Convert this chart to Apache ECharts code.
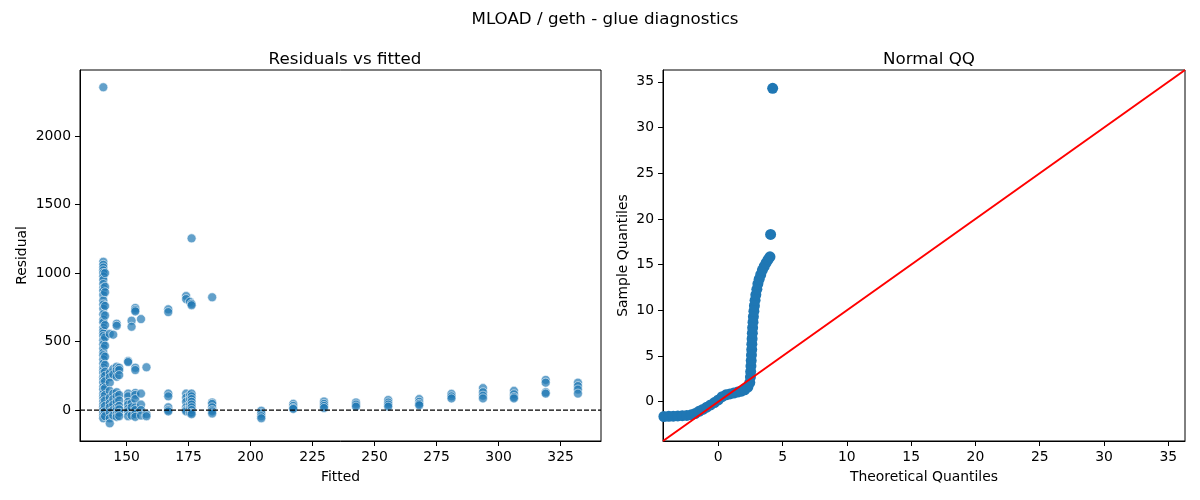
<!DOCTYPE html>
<html>
<head>
<meta charset="utf-8">
<script src="https://cdn.jsdelivr.net/npm/echarts@6.0.0/dist/echarts.min.js"></script>
<style>
  html, body { margin: 0; padding: 0; background: #fff; }
  #main { width: 1200px; height: 500px; }
</style>
</head>
<body>
<div id="main"></div>
<script>
// residuals vs fitted: one list of residuals per fitted level
var fittedLevels = [140.6, 141.3, 143.2, 144.6, 146, 147, 150.6, 152, 153.5, 155.8, 158, 166.8, 174, 175.5, 176.2, 184.5, 204.3, 217.2, 229.6, 242.5, 255.5, 268, 281, 293.7, 306.2, 319, 332]
var residualsByLevel = [
	[2356, 1082, 1060, 1040, 1020, 1000, 975, 950, 920, 890, 870, 840, 800, 770, 740, 700, 660, 640, 600, 580, 560, 540, 510, 480, 450, 420, 400, 370, 340, 310, 290, 270, 240, 220, 200, 170, 150, 120, 100, 80, 60, 40, 20, 0, -20, -40, -60],
	[1000, 900, 860, 760, 690, 620, 530, 470, 390, 330, 280, 250, 210, 160, 110, 70, 30, -10, -45],
	[556, 270, 240, 200, 140, 90, 50, 20, -15, -60, -97],
	[550, 300, 260, 120, 80, 40, 0, -40],
	[630, 615, 316, 292, 243, 130, 100, 60, 20, 0, -30, -50],
	[309, 292, 255, 110, 70, 30, 5, -20, -45],
	[358, 350, 120, 100, 60, 40, 10, -10, -45],
	[652, 608, 50, 20, -40],
	[745, 730, 720, 309, 292, 125, 110, 80, 20, 0, -30, -50],
	[664, 120, 40, 0, -40],
	[312, -30, -45],
	[735, 715, 120, 100, 20, 0, -10],
	[832, 810, 120, 90, 60, 20, 0, -10],
	[790, 110, 80, 40, 10, -20],
	[1253, 775, 765, 120, 100, 80, 60, 40, 20, 0, -20, -30],
	[823, 55, 45, 20, 0, -10, -25],
	[-5, -25, -45, -60],
	[45, 30, 15, 8],
	[62, 45, 30, 15],
	[55, 40, 25],
	[73, 55, 40, 25],
	[80, 60, 45, 35],
	[118, 100, 85],
	[160, 130, 105, 85],
	[140, 115, 95, 85],
	[220, 200, 130, 120],
	[200, 175, 150, 120]
]
var fittedTicks = [150, 175, 200, 225, 250, 275, 300, 325]
var residTicks = [0, 500, 1000, 1500, 2000]

// normal QQ, read along the band
var qqTheoretical = [-4.23, -3.85, -3.5, -3.15, -2.8, -2.45, -2.1, -1.8, -1.5, -1.2, -0.9, -0.6, -0.3, 0.0, 0.3, 0.6, 0.9, 1.2, 1.5, 1.8, 2.05, 2.3, 2.45, 2.5, 2.52, 2.54, 2.56, 2.58, 2.6, 2.61, 2.63, 2.65, 2.67, 2.7, 2.73, 2.77, 2.81, 2.86, 2.92, 3.0, 3.08, 3.18, 3.3, 3.43, 3.57, 3.72, 3.87, 4.02, 4.07, 4.23]
var qqSample = [-1.62, -1.6, -1.58, -1.56, -1.53, -1.5, -1.44, -1.3, -1.05, -0.85, -0.6, -0.35, -0.1, 0.2, 0.55, 0.75, 0.85, 0.95, 1.05, 1.15, 1.3, 1.6, 2.1, 2.7, 3.3, 3.9, 4.5, 5.1, 5.7, 6.3, 6.9, 7.5, 8.1, 8.7, 9.3, 9.9, 10.5, 11.1, 11.7, 12.3, 12.9, 13.4, 13.9, 14.4, 14.8, 15.2, 15.55, 15.85, 18.3, 34.3]
var qqTicks = [0, 5, 10, 15, 20, 25, 30, 35]
var qqLimits = [-4.3, 36.3]

var font = "DejaVu Sans", ink = "#000", blue = "#1f77b4"
var residPoints = []
fittedLevels.forEach(function(x, i) { residualsByLevel[i].forEach(function(y) { residPoints.push([x, y]) }) })
var qqPoints = qqTheoretical.map(function(x, i) { return [x, qqSample[i]] })

function axis(min, max, ticks, name, gap) {
	return {type: "value", min: min, max: max, name: name, nameLocation: "middle", nameGap: gap,
		nameTextStyle: {fontFamily: font, fontSize: 13.9, color: ink},
		axisLine: {show: true, onZero: false, lineStyle: {color: ink, width: 1}},
		axisTick: {show: true, inside: false, length: 5, customValues: ticks, lineStyle: {color: ink, width: 1}},
		axisLabel: {customValues: ticks, margin: 9, fontFamily: font, fontSize: 13.9, color: ink, formatter: function(v) { return String(v) }},
		splitLine: {show: false},
	}
}

var chart = echarts.init(document.getElementById("main"), null, {renderer: "canvas"})
chart.setOption({
	animation: false, backgroundColor: "#fff",
	title: [
		{text: "MLOAD / geth - glue diagnostics", left: 600, top: 6, textAlign: "center", textStyle: {fontFamily: font, fontSize: 16.7, fontWeight: "normal", color: ink}},
		{text: "Residuals vs fitted", left: 340, top: 46, textAlign: "center", textStyle: {fontFamily: font, fontSize: 16.7, fontWeight: "normal", color: ink}},
		{text: "Normal QQ", left: 924, top: 46, textAlign: "center", textStyle: {fontFamily: font, fontSize: 16.7, fontWeight: "normal", color: ink}},
	],
	grid: [
		{left: 80, top: 70, width: 521, height: 371, show: true, borderColor: ink, borderWidth: 1, backgroundColor: "transparent"},
		{left: 663, top: 70, width: 522, height: 371, show: true, borderColor: ink, borderWidth: 1, backgroundColor: "transparent"},
	],
	xAxis: [
		Object.assign(axis(131.2, 341.3, fittedTicks, "Fitted", 29), {gridIndex: 0}),
		Object.assign(axis(qqLimits[0], qqLimits[1], qqTicks, "Theoretical Quantiles", 29), {gridIndex: 1}),
	],
	yAxis: [
		Object.assign(axis(-226, 2482, residTicks, "Residual", 51), {gridIndex: 0}),
		Object.assign(axis(qqLimits[0], qqLimits[1], qqTicks, "Sample Quantiles", 33), {gridIndex: 1}),
	],
	series: [
		{type: "scatter", xAxisIndex: 0, yAxisIndex: 0, data: residPoints, symbolSize: 9, z: 2,
			itemStyle: {color: blue, opacity: 0.7, borderColor: "#fff", borderWidth: 0.8}},
		{type: "line", xAxisIndex: 0, yAxisIndex: 0, data: [[131.2, 0], [341.3, 0]], symbol: "none", z: 3,
			lineStyle: {color: ink, width: 1.3, type: [5, 2]}},
		{type: "scatter", xAxisIndex: 1, yAxisIndex: 1, data: qqPoints, symbolSize: 11, z: 2,
			itemStyle: {color: blue, opacity: 1}},
		{type: "line", xAxisIndex: 1, yAxisIndex: 1, data: [[qqLimits[0], qqLimits[0]], [qqLimits[1], qqLimits[1]]], symbol: "none", z: 3,
			lineStyle: {color: "#ff0000", width: 2}},
	],
})
</script>
</body>
</html>
